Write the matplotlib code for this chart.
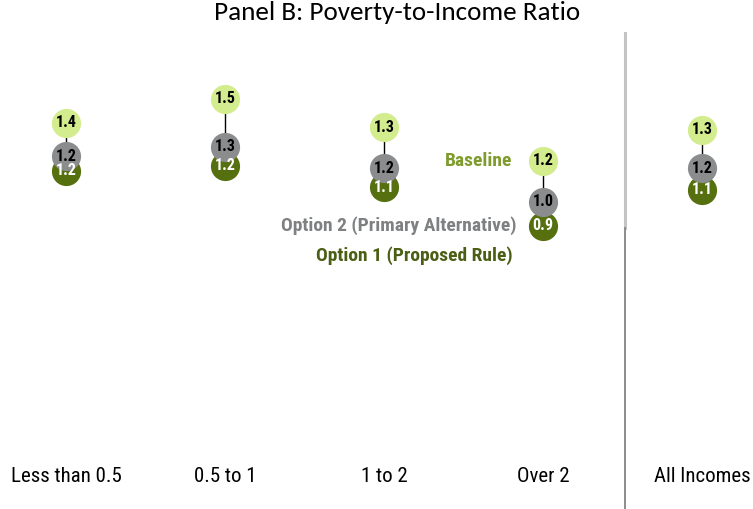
import matplotlib.pyplot as plt
import numpy as np

groups = ["Less than 0.5", "0.5 to 1", "1 to 2", "Over 2", "All Incomes"]
baseline = [1.36, 1.46, 1.34, 1.20, 1.33]
option2 = [1.22, 1.26, 1.17, 1.03, 1.17]
option1 = [1.16, 1.18, 1.09, 0.93, 1.08]

c_base = "#d3ec8e"
c_opt2 = "#8a8c8e"
c_opt1 = "#56700f"
narrow = ["Roboto Condensed", "DejaVu Sans"]

fig = plt.figure(figsize=(7.53, 5.09), dpi=100)
ax = fig.add_axes([0, 0, 1, 1])
ax.set_xlim(-0.415, 4.321)
ax.set_ylim(-0.25, 1.8708)
ax.axis("off")

x = np.arange(len(groups))

# connector from baseline down to option 1
for xi, b, o in zip(x, baseline, option1):
    ax.plot([xi, xi], [b, o], color="black", lw=1, zorder=1)

ms = 21
ax.plot(x, option1, "o", ms=ms, color=c_opt1, mec="none", zorder=2)
ax.plot(x, option2, "o", ms=ms, color=c_opt2, mec="none", zorder=3)
ax.plot(x, baseline, "o", ms=ms, color=c_base, mec="none", zorder=4)

for vals, col in [(option1, "white"), (option2, "black"), (baseline, "black")]:
    for xi, v in zip(x, vals):
        ax.text(xi, v, f"{v:.1f}", ha="center", va="center", fontsize=11.5,
                fontweight="bold", color=col, family=narrow, zorder=5)

# category labels along the bottom
for xi, g in zip(x, groups):
    ax.text(xi, -0.113, g, ha="center", va="center", fontsize=15,
            color="black", family=narrow)

# series labels next to the "Over 2" column
ax.text(2.805, baseline[3], "Baseline", ha="right", va="center", fontsize=14,
        fontweight="bold", color="#7f9b2c", family=narrow)
ax.text(2.836, 0.929, "Option 2 (Primary Alternative)", ha="right", va="center",
        fontsize=14, fontweight="bold", color="#7f8082", family=narrow)
ax.text(2.811, 0.804, "Option 1 (Proposed Rule)", ha="right", va="center",
        fontsize=14, fontweight="bold", color="#4a5e14", family=narrow)

# divider before the all-incomes column
ax.axvline(3.516, ymin=0.552, ymax=0.935, color="#c4c4c4", lw=2.2, zorder=0)
ax.axvline(3.516, ymin=0.0, ymax=0.552, color="#8c8c8c", lw=1.4, zorder=0)

fig.text(0.527, 0.976, "Panel B: Poverty-to-Income Ratio", ha="center", va="center",
         fontsize=19.5, family=["Carlito", "DejaVu Sans"])

fig.savefig("out.png", dpi=100)
